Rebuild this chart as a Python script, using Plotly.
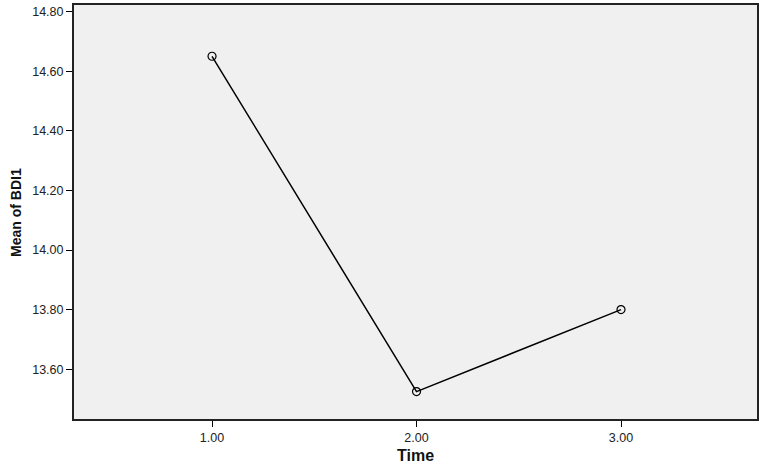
import plotly.graph_objects as go

time = [1.0, 2.0, 3.0]
mean_bdi1 = [14.65, 13.525, 13.80]
y_ticks = [13.6, 13.8, 14.0, 14.2, 14.4, 14.6, 14.8]
y_tick_text = ["13.60", "13.80", "14.00", "14.20", "14.40", "14.60", "14.80"]
x_ticks = [1.0, 2.0, 3.0]
x_tick_text = ["1.00", "2.00", "3.00"]

fig = go.Figure()
fig.add_trace(go.Scatter(
    x=time, y=mean_bdi1, mode="lines+markers",
    line=dict(color="black", width=1.5),
    marker=dict(symbol="circle-open", size=8, color="black", line=dict(width=1.2)),
    showlegend=False,
))

fig.update_layout(
    width=765, height=464,
    margin=dict(l=74, r=8, t=5, b=45, autoexpand=False),
    paper_bgcolor="white",
    plot_bgcolor="#f0f0f0",
    font=dict(family="Liberation Sans, Arial, sans-serif", color="black", size=12),
    annotations=[
        dict(text="<b>Time</b>", xref="paper", yref="paper", x=0.5, y=-0.087,
             xanchor="center", yanchor="middle", showarrow=False,
             font=dict(size=16, color="#111111")),
        dict(text="<b>Mean of BDI1</b>", xref="paper", yref="paper", x=-0.085, y=0.5,
             xanchor="center", yanchor="middle", showarrow=False, textangle=-90,
             font=dict(size=14, color="#111111")),
    ],
)
fig.update_xaxes(
    range=[0.325, 3.665], automargin=False,
    tickvals=x_ticks, ticktext=x_tick_text,
    ticks="outside", ticklen=6, tickcolor="black", tickwidth=1,
    showline=True, mirror=True, linecolor="#222222", linewidth=2,
    showgrid=False, zeroline=False,
    tickfont=dict(size=12.5, color="#222222"),
)
fig.update_yaxes(
    range=[13.433, 14.822], automargin=False,
    tickvals=y_ticks, ticktext=y_tick_text,
    ticks="outside", ticklen=6, tickcolor="black", tickwidth=1,
    showline=True, mirror=True, linecolor="#222222", linewidth=2,
    showgrid=False, zeroline=False,
    tickfont=dict(size=12.5, color="#222222"),
)

fig.write_html("out.html", config={"displayModeBar": False},
               post_script="document.body.style.margin='0';document.body.style.padding='0';")
